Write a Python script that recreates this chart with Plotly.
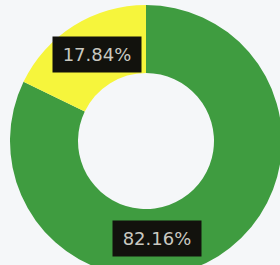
import plotly.graph_objects as go

labels = ["Green", "Yellow"]
values = [82.16, 17.84]
colors = ["#3f9c40", "#f6f53c"]
label_pos = [(157, 238.5), (96.5, 54.5)]  # pixel centres of label boxes

W, H = 300, 300
cx, cy, r = 146, 141, 136

fig = go.Figure(go.Pie(
    labels=labels,
    values=values,
    hole=0.5,
    sort=False,
    direction="clockwise",
    rotation=0,
    marker=dict(colors=colors, line=dict(width=0)),
    textinfo="none",
    hoverinfo="none",
    showlegend=False,
    domain=dict(x=[(cx - r) / W, (cx + r) / W], y=[1 - (cy + r) / H, 1 - (cy - r) / H]),
))

for v, (px, py) in zip(values, label_pos):
    fig.add_annotation(
        x=px / W, y=1 - py / H, xref="paper", yref="paper",
        text=f"{v:.2f}%", showarrow=False,
        font=dict(family="DejaVu Sans", size=18, color="#c9c9c1"),
        bgcolor="#12120d", width=82, height=29, borderpad=3,
        xanchor="center", yanchor="middle",
    )

fig.update_layout(
    width=W, height=H,
    margin=dict(l=0, r=0, t=0, b=0),
    paper_bgcolor="#f5f7f9",
    plot_bgcolor="#f5f7f9",
)

fig.write_html(
    "out.html",
    config={"displayModeBar": False, "staticPlot": True},
    post_script="document.body.style.margin='0';document.body.style.overflow='hidden';document.body.style.background='#f5f7f9';",
)
